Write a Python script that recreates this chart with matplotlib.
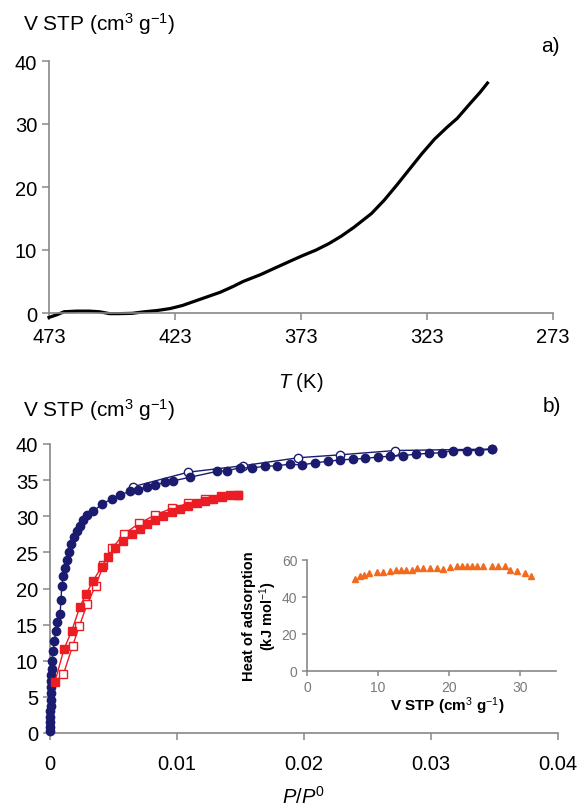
import matplotlib
matplotlib.use("Agg")
import matplotlib.pyplot as plt

plt.rcParams["font.family"] = ["Liberation Sans", "DejaVu Sans"]
plt.rcParams["mathtext.fontset"] = "custom"
plt.rcParams["mathtext.rm"] = "Liberation Sans"
plt.rcParams["mathtext.it"] = "Liberation Sans:italic"

# (a) desorbed volume vs temperature
temp_K = [473, 470, 467, 462, 457, 453, 449, 445, 440, 435, 430, 425, 420,
          415, 410, 405, 400, 396, 389, 383, 378, 373, 367, 362, 357, 352,
          345, 340, 335, 330, 325, 320, 315, 311, 306, 302, 299]
vol_T = [-0.7, -0.3, 0.2, 0.3, 0.3, 0.2, -0.1, -0.1, -0.05, 0.2, 0.4, 0.7,
         1.2, 1.9, 2.6, 3.3, 4.2, 5.0, 6.1, 7.2, 8.1, 9.0, 10.0, 11.0, 12.2,
         13.6, 15.8, 17.9, 20.3, 22.8, 25.3, 27.6, 29.5, 30.9, 33.2, 35.0, 36.5]

# (b) isotherms: blue adsorption / desorption
blue_ads_p = [0.0, 0.0, 0.00001, 0.00002, 0.00003, 0.00004, 0.00005, 0.00006,
              0.00008, 0.00010, 0.00011, 0.00012, 0.00013, 0.00026, 0.00034,
              0.00047, 0.00057, 0.00079, 0.00087, 0.00092, 0.00105, 0.00118,
              0.00131, 0.00150, 0.00165, 0.00189, 0.00210, 0.00236, 0.00262,
              0.00294, 0.00341, 0.00412, 0.00486, 0.00551, 0.00630, 0.00695,
              0.00762, 0.00827, 0.00906, 0.00971, 0.01102, 0.01312, 0.01391,
              0.01496, 0.01588, 0.01693, 0.01785, 0.01890, 0.01982, 0.02087,
              0.02191, 0.02283, 0.02383, 0.02480, 0.02585, 0.02677, 0.02782,
              0.02882, 0.02984, 0.03084, 0.03176, 0.03281, 0.03380, 0.03483]
blue_ads_v = [0.3, 0.8, 1.5, 2.2, 3.0, 3.8, 4.6, 5.5, 6.3, 7.2, 8.0, 8.9, 10.0,
              11.4, 12.8, 14.1, 15.3, 16.5, 18.4, 20.3, 21.7, 22.8, 23.9, 25.0,
              26.2, 27.1, 27.9, 28.7, 29.5, 30.2, 30.7, 31.7, 32.4, 32.9, 33.5,
              33.7, 34.1, 34.3, 34.7, 34.9, 35.4, 36.2, 36.3, 36.7, 36.7, 36.9,
              37.0, 37.2, 37.1, 37.4, 37.6, 37.8, 37.9, 38.0, 38.2, 38.3, 38.4,
              38.6, 38.7, 38.8, 39.1, 39.1, 39.1, 39.3]
blue_des_p = [0.02717, 0.02283, 0.01955, 0.01522, 0.01089, 0.00656]
blue_des_v = [39.1, 38.5, 38.1, 37.0, 36.1, 34.1]

# (b) isotherms: red adsorption / desorption
red_ads_p = [0.00039, 0.0011, 0.0017, 0.00236, 0.00283, 0.0034, 0.00407,
             0.00454, 0.00512, 0.00577, 0.00643, 0.00709, 0.00761, 0.00827,
             0.00892, 0.00958, 0.01024, 0.01089, 0.01155, 0.0122, 0.01286,
             0.01352, 0.01417, 0.01483]
red_ads_v = [7.1, 11.6, 14.1, 17.5, 19.2, 21.1, 23.0, 24.4, 25.6, 26.6, 27.5,
             28.3, 28.9, 29.5, 30.0, 30.6, 31.0, 31.4, 31.8, 32.1, 32.4, 32.6,
             32.9, 32.9]
red_des_p = [0.0148, 0.0135, 0.0122, 0.0109, 0.0096, 0.0083, 0.0070, 0.0058,
             0.0049, 0.0042, 0.0036, 0.00294, 0.00231, 0.00179, 0.00105]
red_des_v = [33.0, 32.8, 32.4, 31.8, 31.1, 30.2, 29.0, 27.5, 25.6, 23.2,
             20.4, 17.9, 14.8, 12.1, 8.1]

# inset: isosteric heat vs loading
heat_v = [6.8, 7.5, 8.0, 8.8, 9.8, 10.7, 11.7, 12.6, 13.3, 14.0, 14.8, 15.5,
          16.4, 17.3, 18.3, 19.2, 20.1, 21.1, 21.8, 22.5, 23.2, 23.9, 24.8,
          26.0, 26.9, 27.9, 28.6, 29.6, 30.7, 31.6]
heat_q = [49.7, 51.2, 51.9, 52.8, 53.3, 53.3, 53.9, 54.6, 54.6, 54.6, 54.6,
          55.5, 55.5, 55.5, 55.5, 55.1, 56.0, 56.6, 56.6, 56.6, 56.6, 56.6,
          56.6, 56.6, 56.6, 56.6, 54.8, 53.9, 53.0, 51.5]

NAVY = "#1b1b6f"
RED = "#ec1c24"
ORANGE = "#f36a1d"
SPINE = "#878787"
VLABEL = "V STP (cm$^{3}$ g$^{-1}$)"


def style(ax, size, color="black", xpad=7, tlen=5):
    for s in ("top", "right"):
        ax.spines[s].set_visible(False)
    for s in ("left", "bottom"):
        ax.spines[s].set_color(SPINE)
        ax.spines[s].set_linewidth(1.2)
    ax.tick_params(axis="both", direction="out", length=tlen, width=1.1,
                   color=SPINE, labelsize=size, labelcolor=color)
    ax.tick_params(axis="x", pad=xpad)


fig = plt.figure(figsize=(5.82, 8.12), dpi=100)

# ---- (a)
ax1 = fig.add_axes([49 / 582, 1 - 314 / 812, 504 / 582, 252 / 812])
ax1.plot(temp_K, vol_T, color="black", lw=2.3, clip_on=False)
ax1.set_xlim(473, 273)
ax1.set_ylim(0, 40)
ax1.set_xticks([473, 423, 373, 323, 273])
ax1.set_yticks([0, 10, 20, 30, 40])
style(ax1, 14.5, xpad=5)
ax1.set_xlabel("$\\mathit{T}$ (K)", fontsize=14.5, labelpad=17)
fig.text(23 / 582, 1 - 24 / 812, VLABEL, fontsize=15, va="center")
fig.text(541 / 582, 1 - 47 / 812, "a)", fontsize=15, va="center")

# ---- (b)
ax2 = fig.add_axes([50 / 582, 1 - 734 / 812, 508 / 582, 289 / 812])
ax2.plot(blue_ads_p + [blue_ads_p[-1]], blue_ads_v + [blue_ads_v[-1]],
         color=NAVY, lw=1.0, marker="o", ms=6, mfc=NAVY, mec=NAVY,
         clip_on=False, zorder=4)
ax2.plot([blue_ads_p[-1]] + blue_des_p, [blue_ads_v[-1]] + blue_des_v,
         color=NAVY, lw=1.0, marker="o", ms=6, mfc="white", mec=NAVY,
         markevery=list(range(1, len(blue_des_p) + 1)), clip_on=False,
         zorder=3)
ax2.plot(red_des_p + [red_ads_p[0]], red_des_v + [red_ads_v[0]],
         color=RED, lw=1.0, marker="s", ms=5.5, mfc="white", mec=RED,
         markevery=list(range(len(red_des_p))), zorder=3)
ax2.plot(red_ads_p, red_ads_v, color=RED, lw=1.0, marker="s", ms=5.5,
         mfc=RED, mec=RED, zorder=4)
ax2.set_xlim(0, 0.04)
ax2.set_ylim(0, 40)
ax2.set_xticks([0, 0.01, 0.02, 0.03, 0.04])
ax2.set_xticklabels(["0", "0.01", "0.02", "0.03", "0.04"])
ax2.set_yticks(range(0, 41, 5))
style(ax2, 14.5, xpad=10)
ax2.set_xlabel("$\\mathit{P/P}^{\\mathit{0}}$", fontsize=14.5, labelpad=9)
fig.text(23 / 582, 1 - 410 / 812, VLABEL, fontsize=15, va="center")
fig.text(543 / 582, 1 - 407 / 812, "b)", fontsize=15, va="center")

# ---- inset: heat of adsorption
ax3 = fig.add_axes([307 / 582, 1 - 671.7 / 812, 248.5 / 582, 110.7 / 812])
ax3.plot(heat_v, heat_q, ls="none", marker="^", ms=4.5, color=ORANGE)
ax3.set_xlim(0, 35)
ax3.set_ylim(0, 60)
ax3.set_xticks([0, 10, 20, 30])
ax3.set_yticks([0, 20, 40, 60])
style(ax3, 10, color="#7a7a7a", xpad=3, tlen=3.5)
ax3.set_xlabel(VLABEL, fontsize=11, fontweight="bold")
ax3.xaxis.set_label_coords(0.563, -0.21)
ax3.set_ylabel("Heat of adsorption\n(kJ mol$^{-1}$)", fontsize=10.5,
               fontweight="bold", labelpad=2, linespacing=1.1)

fig.savefig("out.png", dpi=100)
